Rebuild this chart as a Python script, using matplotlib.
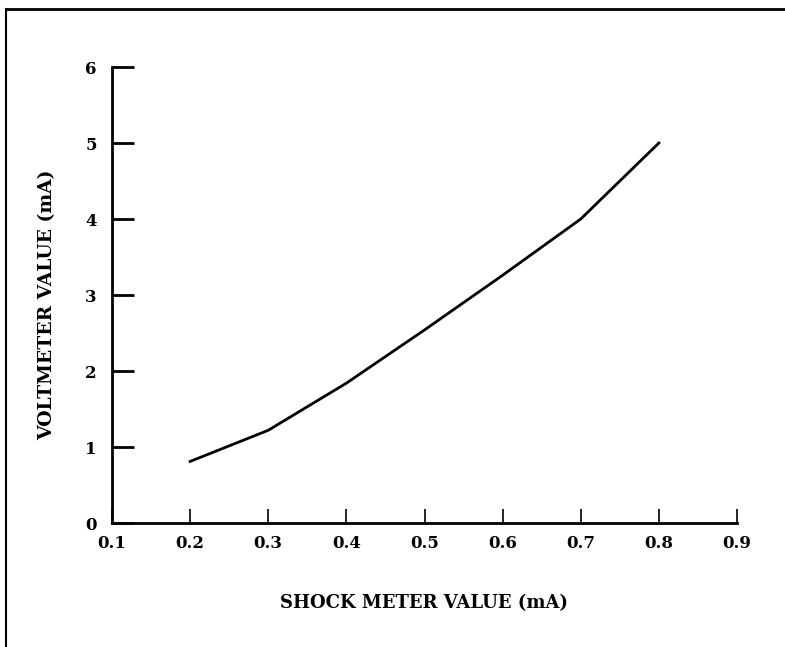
import matplotlib
matplotlib.use("Agg")
import matplotlib.pyplot as plt
from matplotlib.lines import Line2D

shock_meter = [0.2, 0.3, 0.4, 0.5, 0.6, 0.7, 0.8]
voltmeter = [0.81, 1.22, 1.84, 2.54, 3.26, 4.0, 5.0]
x_ticks = [0.1, 0.2, 0.3, 0.4, 0.5, 0.6, 0.7, 0.8, 0.9]
y_ticks = [0, 1, 2, 3, 4, 5, 6]

W, H = 785, 647
fig = plt.figure(figsize=(W / 100, H / 100), dpi=100)
ax = fig.add_axes([112 / W, 1 - 523 / H, (737 - 112) / W, (523 - 67) / H])

ax.plot(shock_meter, voltmeter, color="black", lw=2)
ax.set_xlim(0.1, 0.9)
ax.set_ylim(0, 6)
ax.set_xticks(x_ticks)
ax.set_yticks(y_ticks)
ax.set_xticklabels([f"{v:.1f}" for v in x_ticks])
ax.set_yticklabels([str(v) for v in y_ticks])

for s in ["top", "right"]:
    ax.spines[s].set_visible(False)
for s in ["left", "bottom"]:
    ax.spines[s].set_linewidth(2)

font = dict(family="DejaVu Serif", weight="bold")
ax.tick_params(axis="y", direction="in", length=16, width=2, pad=11, labelsize=12)
ax.tick_params(axis="x", direction="in", length=10, width=1.2, pad=9, labelsize=12)
for lab in ax.get_xticklabels() + ax.get_yticklabels():
    lab.set_fontfamily("DejaVu Serif")
    lab.set_fontweight("bold")

ax.set_xlabel("SHOCK METER VALUE (mA)", fontsize=13, labelpad=30, **font)
ax.set_ylabel("VOLTMETER VALUE (mA)", fontsize=13.5, va="center", **font)
ax.yaxis.set_label_coords(-0.104, 0.478)

# page border lines
fig.add_artist(Line2D([6 / W, 1], [1 - 9 / H, 1 - 9 / H], transform=fig.transFigure, color="black", lw=2))
fig.add_artist(Line2D([6 / W, 6 / W], [0, 1 - 9 / H], transform=fig.transFigure, color="black", lw=1.5))

fig.savefig("out.png", dpi=100)
